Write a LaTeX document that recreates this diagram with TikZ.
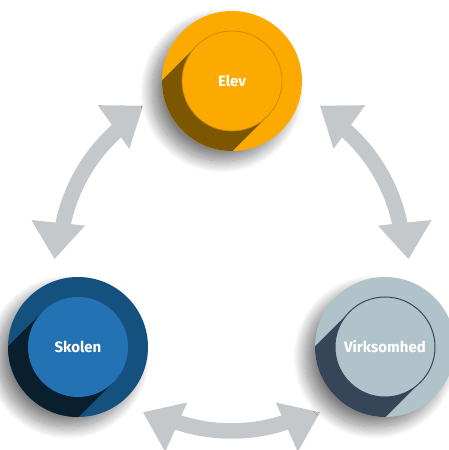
\documentclass[tikz,border=0pt]{standalone}
\usepackage{fontspec}
\setmainfont{Fira Sans}
\usetikzlibrary{calc,shadows.blur}
\definecolor{arrowgray}{RGB}{197,200,203}
\definecolor{elevouter}{RGB}{253,170,0}
\definecolor{elevshadow}{RGB}{125,86,0}
\definecolor{elevline}{RGB}{200,135,0}
\definecolor{skolouter}{RGB}{21,81,127}
\definecolor{skolinner}{RGB}{34,114,180}
\definecolor{skolshadow}{RGB}{10,31,46}
\definecolor{virkouter}{RGB}{177,195,202}
\definecolor{virkshadow}{RGB}{54,70,88}
\tikzset{
  outerdisc/.style={circle, minimum size=140pt, inner sep=0pt,
    blur shadow={shadow xshift=-10pt, shadow yshift=-10pt, shadow blur radius=12pt,
      shadow blur steps=25, shadow opacity=50}},
  innerdisc/.style={circle, minimum size=100pt, inner sep=0pt, text=white,
    font=\fontsize{15}{17}\selectfont\bfseries},
  shaft/.style={draw=arrowgray, line width=15.5pt},
  head/.style={fill=arrowgray},
}
\begin{document}
\begin{tikzpicture}[x=1pt,y=1pt]
\useasboundingbox (0,0) rectangle (449,450);
\coordinate (ctr) at (231.5,191);
% double-headed curved arrows
\foreach \a/\n in {150/L,30/R,270/B}{
  \pgfmathsetmacro{\tA}{\a+30}
  \pgfmathsetmacro{\bA}{\a+18.2}
  \pgfmathsetmacro{\tB}{\a-30}
  \pgfmathsetmacro{\bB}{\a-18.2}
  \pgfmathsetmacro{\sA}{\a+22}
  \pgfmathsetmacro{\sB}{\a-22}
  \coordinate (\n-ta) at ($(ctr)+(\tA:177pt)$);
  \coordinate (\n-ba) at ($(ctr)+(\bA:177pt)$);
  \coordinate (\n-tb) at ($(ctr)+(\tB:177pt)$);
  \coordinate (\n-bb) at ($(ctr)+(\bB:177pt)$);
  \coordinate (\n-sa) at ($(ctr)+(\sA:172pt)$);
  \draw[shaft] (\n-sa) arc[start angle=\sA, end angle=\sB, radius=172pt];
  \fill[head] (\n-ta) -- ($(\n-ba)!27pt!90:(\n-ta)$) -- ($(\n-ba)!27pt!-90:(\n-ta)$) -- cycle;
  \fill[head] (\n-tb) -- ($(\n-bb)!27pt!90:(\n-tb)$) -- ($(\n-bb)!27pt!-90:(\n-tb)$) -- cycle;
}
% Elev
\node[outerdisc, fill=elevouter] (eo) at (232,369) {};
\begin{scope}
  \clip (eo.center) circle (70pt);
  \fill[elevshadow] ($(eo.center)+(135:50pt)$) -- ++(225:200pt)
     -- ($(eo.center)+(315:50pt)+(225:200pt)$) -- ($(eo.center)+(315:50pt)$) -- cycle;
\end{scope}
\node[innerdisc, fill=elevouter, draw=elevline, line width=0.7pt] (elev) at (eo.center) {Elev};
% Skolen
\node[outerdisc, fill=skolouter] (so) at (78,103) {};
\begin{scope}
  \clip (so.center) circle (70pt);
  \fill[skolshadow] ($(so.center)+(135:50pt)$) -- ++(225:200pt)
     -- ($(so.center)+(315:50pt)+(225:200pt)$) -- ($(so.center)+(315:50pt)$) -- cycle;
\end{scope}
\node[innerdisc, fill=skolinner] (skolen) at (so.center) {Skolen};
% Virksomhed
\node[outerdisc, fill=virkouter] (vo) at (385,103) {};
\begin{scope}
  \clip (vo.center) circle (70pt);
  \fill[virkshadow] ($(vo.center)+(135:50pt)$) -- ++(225:200pt)
     -- ($(vo.center)+(315:50pt)+(225:200pt)$) -- ($(vo.center)+(315:50pt)$) -- cycle;
\end{scope}
\node[innerdisc, fill=virkouter, draw=virkshadow, line width=1pt] (virk) at (vo.center) {Virksomhed};
\end{tikzpicture}
\end{document}
